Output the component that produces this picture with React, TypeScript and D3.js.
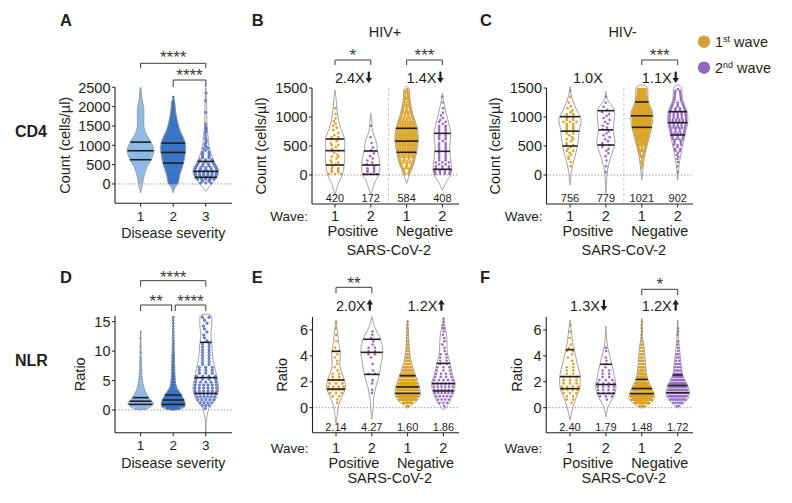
import React from 'react';
import * as d3 from 'd3';

const FONT = "'Liberation Sans', Arial, Helvetica, sans-serif";
const INK = '#231f20';
const GOLD = '#DCA325';
const PURPLE = '#9A6CC8';
const LEG_GOLD = '#D2A13A';
const LEG_PURPLE = '#9167BF';

// ---------- categories / labels ----------
const severity = ['1', '2', '3'];
const waves = ['1', '2', '1', '2'];
const sarsStatus = ['Positive', 'Negative'];
const cd4TicksA = [0, 500, 1000, 1500, 2000, 2500];
const cd4TicksWave = [0, 500, 1000, 1500];
const nlrTicksSeverity = [0, 5, 10, 15];
const nlrTicksWave = [0, 2, 4, 6];

const cd4MediansHivPos = ['420', '172', '584', '408'];
const cd4MediansHivNeg = ['756', '779', '1021', '902'];
const nlrMediansHivPos = ['2.14', '4.27', '1.60', '1.86'];
const nlrMediansHivNeg = ['2.40', '1.79', '1.48', '1.72'];

const foldB = ['2.4X', '1.4X'];
const foldBDir = ['down', 'down'];
const foldC = ['1.0X', '1.1X'];
const foldCDir = ['none', 'down'];
const foldE = ['2.0X', '1.2X'];
const foldEDir = ['up', 'up'];
const foldF = ['1.3X', '1.2X'];
const foldFDir = ['down', 'up'];

// ---------- histogram bins (lower edges) ----------
const cd4BinsA = [0, 100, 200, 300, 400, 500, 600, 700, 800, 900, 1000, 1100, 1200, 1300, 1400, 1500, 1600, 1700, 1800, 1900, 2000, 2100, 2200, 2300, 2400];
const cd4Bins = [0, 100, 200, 300, 400, 500, 600, 700, 800, 900, 1000, 1100, 1200, 1300, 1400];
const nlrBinsD = [0, 0.5, 1, 1.5, 2, 2.5, 3, 3.5, 4, 4.5, 5, 5.5, 6, 6.5, 7, 7.5, 8, 8.5, 9, 9.5, 10, 10.5, 11, 11.5, 12, 12.5, 13, 13.5, 14, 14.5, 15, 15.5];
const nlrBins = [0, 0.25, 0.5, 0.75, 1, 1.25, 1.5, 1.75, 2, 2.25, 2.5, 2.75, 3, 3.25, 3.5, 3.75, 4, 4.25, 4.5, 4.75, 5, 5.25, 5.5, 5.75, 6, 6.25, 6.5, 6.75];

// ---------- point counts per bin ----------
const a1Counts = [5, 7, 9, 12, 17, 23, 30, 33, 35, 33, 28, 21, 15, 11, 9, 8, 8, 8, 8, 7, 5, 3, 2, 2, 1];
const a2Counts = [22, 14, 16, 18, 22, 26, 30, 32, 34, 35, 35, 33, 30, 25, 19, 15, 11, 9, 7, 5, 4, 3, 1, 0, 0];
const a3Counts = [5, 10, 12, 11, 9, 7, 5, 4, 3, 3, 2, 2, 1, 2, 2, 1, 0, 0, 1, 0, 0, 1, 0, 1, 0];

const b1Counts = [7, 4, 4, 4, 4, 4, 5, 2, 3, 2, 1, 1, 0, 0, 0];
const b2Counts = [7, 4, 3, 2, 2, 1, 1, 0, 1, 0, 0, 0, 0, 0, 0];
const b3Counts = [6, 10, 14, 20, 24, 28, 30, 28, 24, 16, 12, 9, 8, 7, 5];
const b4Counts = [12, 8, 7, 6, 6, 5, 6, 6, 5, 4, 2, 1, 1, 1, 0];
const c1Counts = [0, 1, 2, 3, 4, 4, 4, 6, 6, 7, 5, 3, 1, 1, 1];
const c2Counts = [1, 1, 1, 2, 3, 4, 3, 3, 3, 3, 3, 2, 1, 1, 0];
const c3Counts = [0, 2, 4, 7, 10, 16, 22, 30, 36, 38, 38, 32, 25, 20, 16];
const c4Counts = [1, 1, 2, 3, 5, 7, 10, 13, 16, 17, 15, 11, 8, 6, 5];

const d1Counts = [40, 75, 80, 60, 40, 25, 15, 10, 7, 5, 4, 3, 2, 2, 1, 1, 1, 1, 0, 1, 0, 1, 0, 0, 1, 0, 1, 0, 0, 0, 0, 0];
const d2Counts = [45, 85, 90, 75, 55, 35, 22, 15, 10, 8, 6, 5, 4, 3, 3, 2, 2, 2, 2, 1, 1, 1, 1, 1, 1, 1, 1, 1, 1, 1, 1, 1];
const d3Counts = [1, 3, 4, 5, 6, 6, 6, 6, 6, 5, 4, 4, 3, 3, 3, 2, 2, 2, 2, 2, 2, 2, 2, 1, 1, 1, 1, 1, 1, 1, 1, 2];

const e1Counts = [0, 1, 1, 2, 3, 5, 4, 3, 4, 2, 2, 1, 1, 1, 1, 1, 1, 2, 1, 0, 1, 0, 1, 0, 1, 0, 1, 0];
const e2Counts = [0, 0, 0, 0, 1, 1, 0, 1, 1, 0, 2, 1, 0, 1, 0, 1, 2, 2, 2, 1, 1, 1, 1, 1, 0, 0, 0, 0];
const e3Counts = [3, 15, 30, 40, 42, 40, 35, 28, 22, 18, 14, 11, 9, 7, 5, 4, 3, 3, 2, 2, 2, 1, 1, 1, 1, 1, 1, 0];
const e4Counts = [1, 3, 4, 5, 6, 6, 6, 6, 5, 4, 4, 3, 3, 2, 2, 2, 2, 1, 1, 1, 1, 1, 1, 1, 2, 1, 1, 1];
const f1Counts = [0, 1, 2, 2, 3, 4, 4, 3, 3, 3, 2, 2, 2, 1, 1, 1, 1, 2, 1, 1, 0, 1, 0, 1, 0, 1, 0, 0];
const f2Counts = [0, 0, 1, 3, 4, 4, 4, 4, 3, 2, 2, 2, 1, 1, 1, 1, 0, 1, 1, 0, 0, 0, 0, 0, 0, 0, 0, 0];
const f3Counts = [10, 30, 50, 60, 55, 45, 35, 25, 18, 12, 9, 7, 6, 5, 4, 3, 3, 2, 2, 2, 1, 1, 1, 1, 1, 1, 1, 0];
const f4Counts = [2, 5, 10, 14, 15, 14, 13, 11, 9, 7, 5, 4, 3, 3, 2, 2, 2, 1, 1, 1, 1, 0, 1, 1, 1, 0, 0, 0];

// ---------- violin density profiles [value, relative density] ----------
type Profile = [number, number][];
const a1Violin: Profile = [[-230, 0], [0, 0.15], [200, 0.25], [455, 0.5], [627, 0.8], [885, 1], [1100, 0.75], [1314, 0.38], [1486, 0.25], [1830, 0.25], [2000, 0.22], [2173, 0.12], [2500, 0]];
const a2Violin: Profile = [[-230, 0], [-100, 0.12], [25, 0.38], [240, 0.5], [500, 0.75], [713, 0.88], [928, 0.95], [1100, 0.88], [1400, 0.5], [1658, 0.3], [1900, 0.18], [2100, 0.12], [2230, 0]];
const a3Violin: Profile = [[-190, 0], [-100, 0.2], [25, 0.5], [197, 0.88], [370, 0.95], [584, 0.62], [800, 0.38], [970, 0.25], [1300, 0.15], [1572, 0.08], [2000, 0.07], [2480, 0]];

const b1Violin: Profile = [[-345, 0], [-144, 0.29], [0, 0.63], [201, 0.8], [431, 0.83], [650, 0.78], [800, 0.5], [948, 0.3], [1121, 0.17], [1300, 0.1], [1466, 0]];
const b2Violin: Profile = [[-345, 0], [-90, 0.43], [0, 0.71], [201, 0.77], [431, 0.57], [603, 0.43], [750, 0.15], [900, 0.09], [1063, 0]];
const b3Violin: Profile = [[-144, 0], [29, 0.29], [201, 0.63], [402, 0.86], [603, 1], [805, 0.91], [1063, 0.51], [1293, 0.29], [1494, 0.2], [1530, 0]];
const b4Violin: Profile = [[-259, 0], [-86, 0.43], [0, 0.71], [86, 0.8], [259, 0.71], [489, 0.63], [718, 0.71], [977, 0.43], [1178, 0.2], [1408, 0]];
const c1Violin: Profile = [[-172, 0], [86, 0.14], [259, 0.34], [489, 0.63], [776, 0.8], [977, 0.94], [1121, 0.57], [1350, 0.14], [1523, 0]];
const c2Violin: Profile = [[-316, 0], [86, 0.14], [316, 0.43], [546, 0.77], [776, 0.63], [948, 0.71], [1121, 0.71], [1300, 0.14], [1437, 0]];
const c3Violin: Profile = [[-86, 0], [86, 0.09], [316, 0.23], [603, 0.57], [833, 0.86], [1063, 0.94], [1264, 0.57], [1520, 0.43], [1555, 0]];
const c4Violin: Profile = [[-86, 0], [201, 0.14], [431, 0.34], [690, 0.63], [920, 0.86], [1092, 0.8], [1293, 0.43], [1520, 0.29], [1555, 0]];

const d1Violin: Profile = [[0, 0], [0.3, 0.6], [0.57, 0.79], [1.13, 1], [2.0, 0.66], [3.4, 0.32], [5.67, 0.1], [9, 0.05], [13.4, 0]];
const d2Violin: Profile = [[-0.1, 0], [0.3, 0.7], [0.57, 0.92], [1.4, 0.92], [2.55, 0.66], [4, 0.26], [6, 0.14], [8.5, 0.1], [12, 0.06], [16, 0]];
const d3Violin: Profile = [[-3.9, 0], [-1.7, 0.05], [0, 0.2], [0.57, 0.32], [1.7, 0.74], [3.4, 1], [5.67, 0.87], [8.5, 0.58], [11.3, 0.47], [12.5, 0.4], [14.7, 0.47], [16.1, 0.4], [16.25, 0]];

const e1Violin: Profile = [[-1.2, 0], [-0.5, 0.1], [0.2, 0.21], [0.85, 0.47], [1.49, 0.74], [2.14, 0.66], [3.17, 0.32], [4.32, 0.34], [4.97, 0.21], [6.0, 0.1], [6.7, 0]];
const e2Violin: Profile = [[-0.9, 0], [0, 0.1], [0.6, 0.13], [1.62, 0.32], [2.52, 0.58], [3.42, 0.74], [4.32, 0.87], [5.22, 0.71], [6.25, 0.21], [7.03, 0]];
const e3Violin: Profile = [[-0.05, 0], [0.2, 0.26], [0.6, 0.79], [0.98, 1], [1.62, 0.92], [2.39, 0.66], [3.42, 0.32], [4.45, 0.13], [5.5, 0.08], [6.77, 0]];
const e4Violin: Profile = [[-0.2, 0], [0.3, 0.39], [1.1, 0.79], [1.88, 0.92], [2.6, 0.7], [3.42, 0.53], [4.2, 0.32], [5.48, 0.26], [6.3, 0.12], [6.9, 0]];
const f1Violin: Profile = [[-0.95, 0], [0, 0.22], [0.7, 0.45], [1.47, 0.76], [2.42, 0.8], [3.4, 0.58], [4.45, 0.33], [5, 0.22], [6, 0.1], [6.77, 0]];
const f2Violin: Profile = [[-0.7, 0], [0, 0.15], [0.5, 0.4], [1.1, 0.71], [1.8, 0.79], [2.5, 0.65], [3.35, 0.47], [4.7, 0.13], [5.5, 0.05], [6.3, 0]];
const f3Violin: Profile = [[-0.05, 0], [0.05, 0.2], [0.3, 0.6], [0.7, 1], [1.1, 0.95], [1.49, 0.79], [2.24, 0.45], [3.2, 0.3], [4.45, 0.21], [5.5, 0.05], [6.9, 0]];
const f4Violin: Profile = [[-0.05, 0], [0.3, 0.4], [0.7, 0.8], [1.16, 0.92], [1.7, 0.79], [2.52, 0.4], [3.94, 0.21], [5.5, 0.05], [6.77, 0]];

// ---------- quartiles [Q1, median, Q3] ----------
const aQuart = [[627, 859, 1082], [541, 816, 1057], [172, 326, 584]];
const bQuart = [[172, 420, 621], [10, 172, 414], [391, 584, 805], [98, 408, 718]];
const cQuart = [[500, 756, 1006], [517, 779, 1109], [822, 1021, 1259], [690, 902, 1092]];
const dQuart = [[0.96, 1.5, 2.1], [0.96, 1.7, 2.55], [2.83, 5.5, 11.5]];
const eQuart = [[1.44, 2.14, 4.35], [2.57, 4.27, 5.28], [1.1, 1.6, 2.47], [1.29, 1.86, 3.42]];
const fQuart = [[1.47, 2.4, 4.48], [1.1, 1.79, 3.35], [1.08, 1.48, 2.19], [1.16, 1.72, 2.52]];

// ---------- styling ----------
const SEV_STYLE = [
  { fill: '#b4d0ee', dot: '#8dbae6', stroke: 'none' },
  { fill: '#86ace0', dot: '#3a75c5', stroke: 'none' },
  { fill: '#ffffff', dot: '#7f9be3', stroke: '#2b47b2' },
];
const WAVE_STYLE = [
  { fill: 'none', dot: GOLD, stroke: 'none' },
  { fill: 'none', dot: PURPLE, stroke: 'none' },
];

interface Group { counts: number[]; violin: Profile; quart: number[]; fill: string; dot: string; stroke: string; }
interface PanelSpec {
  x0: number; x1: number; yTop: number; yBot: number; domain: [number, number];
  ticks: number[]; bins: number[]; binW: number; maxHalf: number;
  catStart: number; catStep: number; groups: Group[]; separator: boolean; dotR: number;
}

function sevGroups(counts: number[][], violins: Profile[], quarts: number[][]): Group[] {
  return counts.map((c, i) => ({ counts: c, violin: violins[i], quart: quarts[i], ...SEV_STYLE[i] }));
}
function waveGroups(counts: number[][], violins: Profile[], quarts: number[][]): Group[] {
  return counts.map((c, i) => ({ counts: c, violin: violins[i], quart: quarts[i], ...WAVE_STYLE[i % 2] }));
}

const panelA: PanelSpec = {
  x0: 115, x1: 232, yTop: 87.3, yBot: 203.3, domain: [-500, 2500], ticks: cd4TicksA,
  bins: cd4BinsA, binW: 100, maxHalf: 13.3, catStart: 140.6, catStep: 32.6, separator: false, dotR: 1.25,
  groups: sevGroups([a1Counts, a2Counts, a3Counts], [a1Violin, a2Violin, a3Violin], aQuart),
};
const panelB: PanelSpec = {
  x0: 312, x1: 459, yTop: 88, yBot: 204, domain: [-500, 1500], ticks: cd4TicksWave,
  bins: cd4Bins, binW: 100, maxHalf: 11.7, catStart: 335, catStep: 35.8, separator: true, dotR: 1.3,
  groups: waveGroups([b1Counts, b2Counts, b3Counts, b4Counts], [b1Violin, b2Violin, b3Violin, b4Violin], bQuart),
};
const panelC: PanelSpec = {
  x0: 546.5, x1: 693, yTop: 88, yBot: 204, domain: [-500, 1500], ticks: cd4TicksWave,
  bins: cd4Bins, binW: 100, maxHalf: 11.7, catStart: 570, catStep: 35.9, separator: true, dotR: 1.3,
  groups: waveGroups([c1Counts, c2Counts, c3Counts, c4Counts], [c1Violin, c2Violin, c3Violin, c4Violin], cQuart),
};
const panelD: PanelSpec = {
  x0: 115, x1: 232, yTop: 315.8, yBot: 432.7, domain: [-3.85, 16], ticks: nlrTicksSeverity,
  bins: nlrBinsD, binW: 0.5, maxHalf: 12.7, catStart: 140.6, catStep: 32.6, separator: false, dotR: 1.25,
  groups: sevGroups([d1Counts, d2Counts, d3Counts], [d1Violin, d2Violin, d3Violin], dQuart),
};
const panelE: PanelSpec = {
  x0: 312.5, x1: 459, yTop: 317, yBot: 432.7, domain: [-1.93, 7], ticks: nlrTicksWave,
  bins: nlrBins, binW: 0.25, maxHalf: 12.7, catStart: 336, catStep: 35.8, separator: false, dotR: 1.3,
  groups: waveGroups([e1Counts, e2Counts, e3Counts, e4Counts], [e1Violin, e2Violin, e3Violin, e4Violin], eQuart),
};
const panelF: PanelSpec = {
  x0: 546.2, x1: 693, yTop: 317, yBot: 432.7, domain: [-1.93, 7], ticks: nlrTicksWave,
  bins: nlrBins, binW: 0.25, maxHalf: 12.7, catStart: 570, catStep: 35.9, separator: false, dotR: 1.3,
  groups: waveGroups([f1Counts, f2Counts, f3Counts, f4Counts], [f1Violin, f2Violin, f3Violin, f4Violin], fQuart),
};

function scalesOf(p: PanelSpec) {
  const y = d3.scaleLinear().domain(p.domain).range([p.yBot, p.yTop]);
  const x = d3.scalePoint<number>()
    .domain(p.groups.map((_, i) => i))
    .range([p.catStart, p.catStart + p.catStep * (p.groups.length - 1)]);
  return { x, y };
}

const JIT = [-0.5, 0.3, -0.1, 0.55, -0.35, 0.1, 0.45, -0.55, 0.2];

function dotLayout(p: PanelSpec, g: Group, gi: number, cx: number, y: d3.ScaleLinear<number, number>) {
  const dens = d3.scaleLinear().domain(g.violin.map((v) => v[0])).range(g.violin.map((v) => v[1])).clamp(true);
  const out: [number, number][] = [];
  g.counts.forEach((n, bi) => {
    if (!n) return;
    const lo = p.bins[bi];
    const hPx = Math.abs(y(lo) - y(lo + p.binW));
    const R = Math.max(1, Math.min(n, Math.floor(hPx / 1.9)));
    for (let r = 0; r < R; r++) {
      const m = Math.floor(n / R) + (r < n % R ? 1 : 0);
      if (!m) continue;
      const v = lo + (p.binW * (r + 0.5)) / R;
      const w = Math.max(0.6, p.maxHalf * dens(v) - p.dotR - 0.3);
      const yy = y(v);
      if (m === 1) {
        out.push([cx + JIT[(bi * 3 + r + gi * 2) % JIT.length] * w, yy]);
      } else {
        const span = Math.min(2 * w, (m - 1) * 6.5);
        for (let j = 0; j < m; j++) out.push([cx - span / 2 + (j * span) / (m - 1), yy]);
      }
    }
  });
  return out;
}

function Panel({ p }: { p: PanelSpec }) {
  const { x, y } = scalesOf(p);
  const y0 = y(0);
  return (
    <g>
      <line x1={p.x0} x2={p.x1} y1={y0} y2={y0} stroke="#7a7a7a" strokeWidth={0.9} strokeDasharray="1.2,2" />
      {p.separator && (
        <line
          x1={((x(1) as number) + (x(2) as number)) / 2}
          x2={((x(1) as number) + (x(2) as number)) / 2}
          y1={p.yTop}
          y2={p.yBot}
          stroke="#bdbdbd"
          strokeWidth={0.8}
          strokeDasharray="3,2"
        />
      )}
      {p.groups.map((g, gi) => {
        const cx = x(gi) as number;
        const area = d3
          .area<[number, number]>()
          .y((d) => y(d[0]))
          .x0((d) => cx - p.maxHalf * d[1])
          .x1((d) => cx + p.maxHalf * d[1])
          .curve(d3.curveCatmullRom.alpha(0.5));
        const path = area(g.violin) || '';
        const dens = d3.scaleLinear().domain(g.violin.map((v) => v[0])).range(g.violin.map((v) => v[1])).clamp(true);
        const dots = dotLayout(p, g, gi, cx, y);
        return (
          <g key={gi}>
            {g.fill !== 'none' && <path d={path} fill={g.fill} stroke="none" />}
            {dots.map((d, i) => (
              <circle
                key={i}
                cx={d[0]}
                cy={d[1]}
                r={p.dotR}
                fill={g.dot}
                stroke={g.stroke}
                strokeWidth={g.stroke === 'none' ? 0 : 0.55}
              />
            ))}
            <path d={path} fill="none" stroke="#8c8c8c" strokeWidth={0.8} />
            {g.quart.map((q, qi) => {
              const hw = p.maxHalf * dens(q);
              return (
                <line key={qi} x1={cx - hw} x2={cx + hw} y1={y(q)} y2={y(q)} stroke={INK} strokeWidth={1.6} />
              );
            })}
          </g>
        );
      })}
      <line x1={p.x0} x2={p.x0} y1={p.yTop} y2={p.yBot} stroke={INK} strokeWidth={1.1} />
      <line x1={p.x0} x2={p.x1} y1={p.yBot} y2={p.yBot} stroke={INK} strokeWidth={1.1} />
      {p.ticks.map((t) => (
        <g key={t}>
          <line x1={p.x0 - 3} x2={p.x0} y1={y(t)} y2={y(t)} stroke={INK} strokeWidth={1} />
          <text x={p.x0 - 4.5} y={y(t)} dy="0.36em" textAnchor="end" fontSize={14.5} fill={INK}>
            {t}
          </text>
        </g>
      ))}
      {p.groups.map((_, gi) => (
        <line key={gi} x1={x(gi) as number} x2={x(gi) as number} y1={p.yBot} y2={p.yBot + 3.5} stroke={INK} strokeWidth={1} />
      ))}
    </g>
  );
}

function Bracket({ xa, xb, y, tick, label, starY }: { xa: number; xb: number; y: number; tick: number; label: string; starY: number }) {
  const fs = 17;
  return (
    <g>
      <path d={`M${xa},${y + tick}V${y}H${xb}V${y + tick}`} fill="none" stroke="#3a3a3a" strokeWidth={1} />
      <text x={(xa + xb) / 2} y={starY + 0.57 * fs} textAnchor="middle" fontSize={fs} fill="#3a3a3a">
        {label}
      </text>
    </g>
  );
}

function Arrow({ cx, base, dir }: { cx: number; base: number; dir: string }) {
  const h = 11;
  if (dir === 'down') {
    return (
      <g>
        <line x1={cx} x2={cx} y1={base - h} y2={base - 4} stroke={INK} strokeWidth={2.2} />
        <path d={`M${cx - 3.3},${base - 4.8}L${cx + 3.3},${base - 4.8}L${cx},${base + 0.3}Z`} fill={INK} />
      </g>
    );
  }
  return (
    <g>
      <line x1={cx} x2={cx} y1={base} y2={base - h + 4} stroke={INK} strokeWidth={2.2} />
      <path d={`M${cx - 3.3},${base - h + 4.8}L${cx + 3.3},${base - h + 4.8}L${cx},${base - h - 0.3}Z`} fill={INK} />
    </g>
  );
}

function Fold({ p, texts, dirs, base }: { p: PanelSpec; texts: string[]; dirs: string[]; base: number }) {
  const { x } = scalesOf(p);
  return (
    <g>
      {texts.map((t, i) => {
        const xa = x(2 * i) as number;
        const xb = x(2 * i + 1) as number;
        if (dirs[i] === 'none') {
          return (
            <text key={i} x={(xa + xb) / 2} y={base} textAnchor="middle" fontSize={14.5} fill={INK}>
              {t}
            </text>
          );
        }
        const ax = xb - 2;
        return (
          <g key={i}>
            <text x={ax - 4} y={base} textAnchor="end" fontSize={14.5} fill={INK}>
              {t}
            </text>
            <Arrow cx={ax} base={base} dir={dirs[i]} />
          </g>
        );
      })}
    </g>
  );
}

function WaveAxisLabels({ p, medians, medY, waveY, statusY, sarsY }: { p: PanelSpec; medians: string[]; medY: number; waveY: number; statusY: number; sarsY: number }) {
  const { x } = scalesOf(p);
  const xs = p.groups.map((_, i) => x(i) as number);
  return (
    <g fill={INK}>
      {medians.map((m, i) => (
        <text key={'m' + i} x={xs[i]} y={medY} textAnchor="middle" fontSize={11}>
          {m}
        </text>
      ))}
      <text x={p.x0 - 4} y={waveY} textAnchor="end" fontSize={13.5}>
        Wave:
      </text>
      {waves.map((w, i) => (
        <text key={'w' + i} x={xs[i]} y={waveY} textAnchor="middle" fontSize={14.5}>
          {w}
        </text>
      ))}
      {sarsStatus.map((s, i) => (
        <text key={s} x={(xs[2 * i] + xs[2 * i + 1]) / 2} y={statusY} textAnchor="middle" fontSize={14.5}>
          {s}
        </text>
      ))}
      <text x={(xs[0] + xs[3]) / 2} y={sarsY} textAnchor="middle" fontSize={14.5}>
        SARS-CoV-2
      </text>
    </g>
  );
}

function SevAxisLabels({ p, tickY, titleY }: { p: PanelSpec; tickY: number; titleY: number }) {
  const { x } = scalesOf(p);
  return (
    <g fill={INK}>
      {severity.map((s, i) => (
        <text key={s} x={x(i) as number} y={tickY} textAnchor="middle" fontSize={13.5}>
          {s}
        </text>
      ))}
      <text x={x(1) as number} y={titleY} textAnchor="middle" fontSize={14.2}>
        Disease severity
      </text>
    </g>
  );
}

function YTitle({ p, x, text }: { p: PanelSpec; x: number; text: string }) {
  return (
    <text transform={`translate(${x},${(p.yTop + p.yBot) / 2}) rotate(-90)`} textAnchor="middle" fontSize={14.5} fill={INK}>
      {text}
    </text>
  );
}

export default function App() {
  const sA = scalesOf(panelA);
  const sB = scalesOf(panelB);
  const sC = scalesOf(panelC);
  const sD = scalesOf(panelD);
  const sE = scalesOf(panelE);
  const sF = scalesOf(panelF);
  const X = (s: { x: d3.ScalePoint<number> }, i: number) => s.x(i) as number;

  return (
    <svg
      width={792}
      height={503}
      viewBox="0 0 792 503"
      style={{ position: 'absolute', left: 0, top: 0, background: '#ffffff' }}
      fontFamily={FONT}
    >
      <rect width={792} height={503} fill="#ffffff" />

      <g fontWeight="bold" fontSize={16.5} fill={INK}>
        <text x={60} y={26}>A</text>
        <text x={251.7} y={26}>B</text>
        <text x={480} y={26}>C</text>
        <text x={60} y={282.7}>D</text>
        <text x={251.7} y={283.3}>E</text>
        <text x={480} y={283.3}>F</text>
        <text x={15} y={136.7} fontSize={16}>CD4</text>
        <text x={15} y={366} fontSize={16}>NLR</text>
      </g>
      <text x={385} y={36.7} textAnchor="middle" fontSize={14.5} fill={INK}>HIV+</text>
      <text x={622.5} y={36.7} textAnchor="middle" fontSize={14.5} fill={INK}>HIV-</text>

      <circle cx={704} cy={41.7} r={6.2} fill={LEG_GOLD} />
      <text x={715} y={47} fontSize={14.5} fill={INK}>
        1<tspan fontSize={9} dy={-5.5}>st</tspan>
        <tspan dy={5.5}> wave</tspan>
      </text>
      <circle cx={704} cy={67.7} r={6.2} fill={LEG_PURPLE} />
      <text x={715} y={73} fontSize={14.5} fill={INK}>
        2<tspan fontSize={9} dy={-5.5}>nd</tspan>
        <tspan dy={5.5}> wave</tspan>
      </text>

      <Panel p={panelA} />
      <Panel p={panelB} />
      <Panel p={panelC} />
      <Panel p={panelD} />
      <Panel p={panelE} />
      <Panel p={panelF} />

      <YTitle p={panelA} x={69.7} text="Count (cells/µl)" />
      <YTitle p={panelB} x={266.4} text="Count (cells/µl)" />
      <YTitle p={panelC} x={500.4} text="Count (cells/µl)" />
      <YTitle p={panelD} x={85.4} text="Ratio" />
      <YTitle p={panelE} x={287} text="Ratio" />
      <YTitle p={panelF} x={522} text="Ratio" />

      <SevAxisLabels p={panelA} tickY={221.3} titleY={237.5} />
      <SevAxisLabels p={panelD} tickY={450.2} titleY={468} />
      <WaveAxisLabels p={panelB} medians={cd4MediansHivPos} medY={202.3} waveY={221} statusY={236} sarsY={254.5} />
      <WaveAxisLabels p={panelC} medians={cd4MediansHivNeg} medY={202.3} waveY={221} statusY={236} sarsY={254.5} />
      <WaveAxisLabels p={panelE} medians={nlrMediansHivPos} medY={431.3} waveY={453} statusY={467.7} sarsY={482.7} />
      <WaveAxisLabels p={panelF} medians={nlrMediansHivNeg} medY={431.3} waveY={453} statusY={467.7} sarsY={482.7} />

      <Bracket xa={X(sA, 0)} xb={X(sA, 2)} y={63.3} tick={5} label="****" starY={53.3} />
      <Bracket xa={X(sA, 1)} xb={X(sA, 2)} y={80} tick={7} label="****" starY={71.7} />
      <Bracket xa={X(sB, 0)} xb={X(sB, 1)} y={60} tick={5} label="*" starY={51.7} />
      <Bracket xa={X(sB, 2)} xb={X(sB, 3)} y={60} tick={5} label="***" starY={51.7} />
      <Bracket xa={X(sC, 2)} xb={X(sC, 3)} y={60} tick={5} label="***" starY={51.7} />
      <Bracket xa={X(sD, 0)} xb={X(sD, 2)} y={280.7} tick={6} label="****" starY={273.3} />
      <Bracket xa={X(sD, 0)} xb={X(sD, 1) - 1.5} y={305} tick={6} label="**" starY={297.3} />
      <Bracket xa={X(sD, 1) + 2} xb={X(sD, 2)} y={305} tick={6} label="****" starY={297.3} />
      <Bracket xa={X(sE, 0)} xb={X(sE, 1)} y={287.3} tick={6} label="**" starY={279.3} />
      <Bracket xa={X(sF, 2)} xb={X(sF, 3)} y={289.3} tick={6} label="*" starY={280.7} />

      <Fold p={panelB} texts={foldB} dirs={foldBDir} base={82.7} />
      <Fold p={panelC} texts={foldC} dirs={foldCDir} base={82.7} />
      <Fold p={panelE} texts={foldE} dirs={foldEDir} base={310.7} />
      <Fold p={panelF} texts={foldF} dirs={foldFDir} base={310.7} />
    </svg>
  );
}
